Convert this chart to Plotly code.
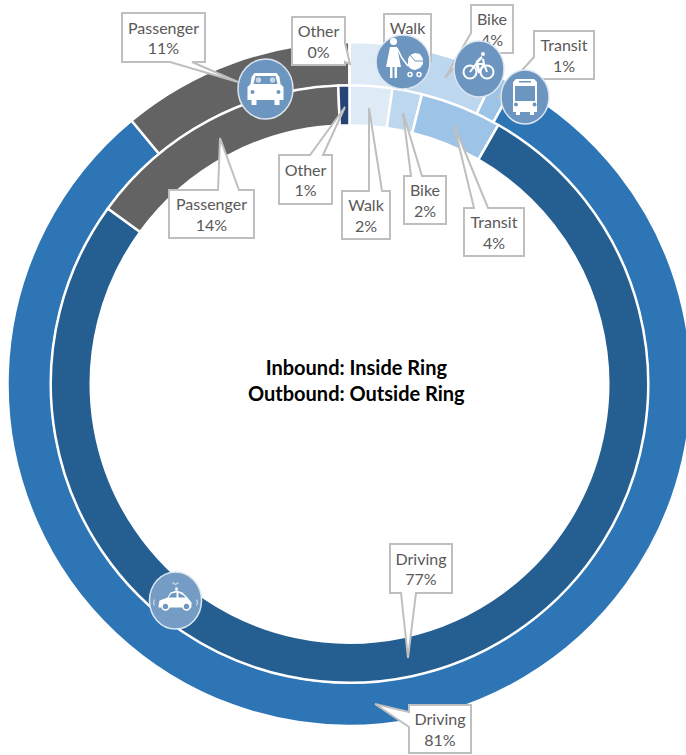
import plotly.graph_objects as go

categories = ['Walk', 'Bike', 'Transit', 'Driving', 'Passenger', 'Other']
inbound_values = [2.3, 1.6, 4.4, 76.7, 14.4, 0.6]
outbound_values = [3, 4, 1, 81, 11, 0]
inbound_colors = ['#DEEBF7', '#BDD7EE', '#9DC3E6', '#255E91', '#636363', '#264478']
outbound_colors = ['#DEEBF7', '#BDD7EE', '#9DC3E6', '#2E75B6', '#636363', '#264478']

W, H = 700, 755
CX, CY = 349.5, 384
ICON = '#6C96C0'
GREY = '#BFBFBF'


def ring(values, colors, radius, hole, name):
    return go.Pie(labels=categories, values=values, name=name, sort=False, direction='clockwise',
                  rotation=0, hole=hole, textinfo='none', hoverinfo='label+percent', showlegend=False,
                  marker=dict(colors=colors, line=dict(color='white', width=2.5)),
                  domain=dict(x=[(CX - radius) / W, (CX + radius) / W],
                              y=[1 - (CY + radius) / H, 1 - (CY - radius) / H]))


fig = go.Figure()
fig.add_trace(go.Scatter(x=[], y=[], hoverinfo='skip', showlegend=False))
fig.add_trace(ring(outbound_values, outbound_colors, 342, 0.872, 'Outbound'))
fig.add_trace(ring(inbound_values, inbound_colors, 298.75, 0.866, 'Inbound'))

shapes = []


def callout(text, box, side, base, tip):
    x0, y0, x1, y1 = box
    if side == 'top':
        pts = [(x0, y0), (base[0], y0), tip, (base[1], y0), (x1, y0), (x1, y1), (x0, y1)]
    elif side == 'bottom':
        pts = [(x0, y0), (x1, y0), (x1, y1), (base[1], y1), tip, (base[0], y1), (x0, y1)]
    elif side == 'left':
        pts = [(x0, y0), (x1, y0), (x1, y1), (x0, y1), (x0, base[1]), tip, (x0, base[0])]
    else:
        pts = [(x0, y0), (x1, y0), (x1, base[0]), tip, (x1, base[1]), (x1, y1), (x0, y1)]
    shapes.append(dict(type='path', path=poly(pts), fillcolor='white', line=dict(color=GREY, width=2),
                       xref='x', yref='y', layer='above'))
    shapes.append(dict(type='rect', x0=x0, y0=y0, x1=x1, y1=y1, xref='x', yref='y', layer='above',
                       fillcolor='rgba(0,0,0,0)', line=dict(width=0),
                       label=dict(text=text, textposition='middle center',
                                  font=dict(family='Lato', size=16, color='#595959'))))


def poly(pts, close=True):
    s = 'M ' + ' L '.join(f'{x},{y}' for x, y in pts)
    return s + ' Z' if close else s


def white_poly(cx, cy, pts, color='white'):
    shapes.append(dict(type='path', path=poly([(cx + x, cy + y) for x, y in pts]), fillcolor=color,
                       line=dict(width=0), xref='x', yref='y', layer='above'))


def stroke(cx, cy, pts, width=2, color='white'):
    shapes.append(dict(type='path', path=poly([(cx + x, cy + y) for x, y in pts], close=False),
                       line=dict(color=color, width=width), xref='x', yref='y', layer='above'))


def dot(cx, cy, x, y, r, fill='white', line=None, width=0):
    shapes.append(dict(type='circle', x0=cx + x - r, x1=cx + x + r, y0=cy + y - r, y1=cy + y + r,
                       fillcolor=fill, line=dict(color=line or fill, width=width),
                       xref='x', yref='y', layer='above'))


def disc(cx, cy, rx, ry, color=ICON):
    shapes.append(dict(type='circle', x0=cx - rx, x1=cx + rx, y0=cy - ry, y1=cy + ry, fillcolor=color,
                       line=dict(color='#DCE6F1', width=1.5), xref='x', yref='y', layer='above'))


def walk_icon(cx, cy):
    disc(cx, cy, 27, 27)
    dot(cx, cy, -9.5, -20.5, 3.5)
    white_poly(cx, cy, [(-13, -15), (-6, -15), (-2, 5), (-17, 5)])
    white_poly(cx, cy, [(-13, 5), (-10.5, 5), (-10.5, 16), (-13, 16)])
    white_poly(cx, cy, [(-8.5, 5), (-6, 5), (-6, 16), (-8.5, 16)])
    stroke(cx, cy, [(-6, -14), (-1, -4), (5, 4)], 1.5)
    white_poly(cx, cy, [(5, 4), (5, -3), (7, -7), (12, -9), (17, -8), (20, -3), (20, 2), (17, 6), (12, 8), (8, 7)])
    stroke(cx, cy, [(7, -7), (12, -1), (20, -1)], 1, ICON)
    dot(cx, cy, 7, 12.5, 2, ICON, 'white', 1.5)
    dot(cx, cy, 16, 12.5, 2, ICON, 'white', 1.5)


def bike_icon(cx, cy):
    disc(cx, cy, 25, 28)
    dot(cx, cy, -9, 3, 6.5, ICON, 'white', 2)
    dot(cx, cy, 8, 3, 6.5, ICON, 'white', 2)
    stroke(cx, cy, [(-9, 3), (-3, -5), (5, -5), (8, 3)])
    stroke(cx, cy, [(-3, -5), (0, 3), (5, -5), (4, -10)])
    stroke(cx, cy, [(0, 3), (-2, -7), (3, -12)], 2.5)
    dot(cx, cy, 4, -15, 2)


def bus_icon(cx, cy):
    disc(cx, cy, 24, 27)
    white_poly(cx, cy, [(-12, -15), (-9, -18), (9, -18), (12, -15), (12, 15), (9, 15), (9, 18), (5, 18), (5, 15),
                        (-5, 15), (-5, 18), (-9, 18), (-9, 15), (-12, 15)])
    white_poly(cx, cy, [(-10, -11), (10, -11), (10, 4), (-10, 4)], ICON)
    white_poly(cx, cy, [(-6, -16), (6, -16), (6, -14.5), (-6, -14.5)], ICON)
    dot(cx, cy, -9, 7.5, 2, ICON)
    dot(cx, cy, 9.5, 7.5, 2, ICON)


def passenger_icon(cx, cy):
    disc(cx, cy, 27.5, 30)
    white_poly(cx, cy, [(-11, -16), (11, -16), (14, -12), (15, -5), (18, -2), (18, 11), (14, 11), (14, 16), (9, 16),
                        (9, 11), (-9, 11), (-9, 16), (-14, 16), (-14, 11), (-18, 11), (-18, -2), (-15, -5), (-14, -12)])
    white_poly(cx, cy, [(-10, -13), (10, -13), (12, -5), (-12, -5)], ICON)
    dot(cx, cy, -7, -9, 2.7, '#C9D8E8')
    dot(cx, cy, 7, -9, 2.7, '#C9D8E8')
    dot(cx, cy, -13, 3, 2, ICON)
    dot(cx, cy, 13, 3, 2, ICON)


def driving_icon(cx, cy):
    disc(cx, cy, 26, 28.5, '#749CC5')
    white_poly(cx, cy, [(-17, 5), (-16, 0), (-8, -3), (-5, -8), (1, -10), (7, -8), (12, -3), (16, 2), (16, 7), (-17, 7)])
    white_poly(cx, cy, [(-4, -7), (1, -8), (1, -3), (-7, -3)], ICON)
    white_poly(cx, cy, [(3, -8), (8, -5), (10, -3), (3, -3)], ICON)
    dot(cx, cy, -10, 6, 3.5, ICON, 'white', 1.5)
    dot(cx, cy, 11, 6, 3.5, ICON, 'white', 1.5)
    stroke(cx, cy, [(1, -10), (1, -13)], 2.5)
    stroke(cx, cy, [(-3, -18), (0, -16), (3, -18)], 1.2, '#C9D8E8')
    stroke(cx, cy, [(-21, -1), (-22, 2), (-21, 5)], 1.2, '#C9D8E8')
    stroke(cx, cy, [(21, -1), (22, 2), (21, 5)], 1.2, '#C9D8E8')


def label(cat, values):
    return f'{cat}<br>{round(values[categories.index(cat)])}%'


callout(label('Passenger', outbound_values), (122, 13, 205, 62), 'bottom', (170, 192), (238, 82))
callout(label('Other', outbound_values), (292, 17, 345, 65), 'right', (43, 62), (350, 64))
callout(label('Walk', outbound_values), (384, 14, 431, 62), 'bottom', (395, 410), (400, 75))
callout(label('Bike', outbound_values), (471, 5, 513, 53), 'left', (33, 48), (445, 78))
callout(label('Transit', outbound_values), (534, 31, 594, 79), 'left', (57, 74), (497, 98))
callout(label('Driving', outbound_values), (409, 705, 471, 753), 'left', (712, 727), (375, 704))
callout(label('Passenger', inbound_values), (169, 190, 254, 238), 'top', (218, 239), (220, 138))
callout(label('Other', inbound_values), (279, 155, 332, 204), 'top', (310, 323), (345, 107))
callout(label('Walk', inbound_values), (342, 191, 390, 239), 'top', (369, 382), (369, 108))
callout(label('Bike', inbound_values), (404, 176, 446, 224), 'top', (411, 422), (403, 113))
callout(label('Transit', inbound_values), (464, 208, 524, 256), 'top', (474, 488), (454, 125))
callout(label('Driving', inbound_values), (390, 544, 452, 593), 'bottom', (401, 416), (408, 658))

walk_icon(403, 62)
bike_icon(479, 69)
bus_icon(525, 97)
passenger_icon(265.5, 89)
driving_icon(175.5, 600.5)

fig.add_annotation(x=356, y=380, xref='x', yref='y', showarrow=False, align='center',
                   text='<b>Inbound: Inside Ring<br>Outbound: Outside Ring</b>',
                   font=dict(family='Lato', size=20, color='black'))

fig.update_layout(width=W, height=H, margin=dict(l=0, r=0, t=0, b=0), paper_bgcolor='white', plot_bgcolor='rgba(0,0,0,0)',
                  shapes=shapes,
                  xaxis=dict(range=[0, W], visible=False, fixedrange=True),
                  yaxis=dict(range=[H, 0], visible=False, fixedrange=True))

fig.write_html("out.html", config={'displayModeBar': False},
               post_script="document.body.style.margin='0';document.body.style.overflow='hidden';")
